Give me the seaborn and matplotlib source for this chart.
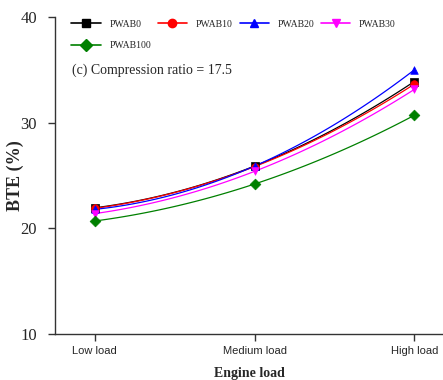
import numpy as np
import pandas as pd
import matplotlib
matplotlib.use("Agg")
import matplotlib.pyplot as plt
import seaborn as sns

categories = ["Low load", "Medium load", "High load"]
series = ["PWAB0", "PWAB10", "PWAB20", "PWAB30", "PWAB100"]
pwab0 = [21.95, 25.9, 33.9]
pwab10 = [21.9, 25.85, 33.65]
pwab20 = [21.8, 25.9, 35.0]
pwab30 = [21.4, 25.4, 33.15]
pwab100 = [20.7, 24.2, 30.7]
yticks = [10, 20, 30, 40]

values = [pwab0, pwab10, pwab20, pwab30, pwab100]
colors = ["#000000", "#ff0000", "#0000ff", "#ff00ff", "#008000"]
markers = ["s", "o", "^", "v", "D"]

sns.set_style("ticks")
plt.rcParams["font.family"] = ["Liberation Serif", "DejaVu Serif"]

fig = plt.figure(figsize=(4.43, 3.80), dpi=100)
ax = fig.add_axes([0.124, 0.121, 0.876, 0.834])

x = np.arange(len(categories))
xs = np.linspace(0, 2, 100)
rows = []
for name, vals in zip(series, values):
    for xi, v in zip(x, vals):
        rows.append({"x": xi, "y": v, "series": name})
df = pd.DataFrame(rows)

handles = {}
for name, vals, c, m in zip(series, values, colors, markers):
    coef = np.polyfit(x, vals, 2)
    ax.plot(xs, np.polyval(coef, xs), color=c, lw=0.9, zorder=2)
    sub = df[df.series == name]
    sns.scatterplot(data=sub, x="x", y="y", ax=ax, color=c, marker=m, s=30,
                    edgecolor=c, linewidth=0.5, zorder=3, legend=False)
    h, = ax.plot([], [], color=c, marker=m, ms=6, lw=1.2, label=name)
    handles[name] = h

ax.set_xlim(-0.25, 2.18)
ax.set_ylim(10, 40)
ax.set_yticks(yticks)
ax.set_yticklabels([str(t) for t in yticks], fontsize=12)
ax.set_xticks(x)
ax.set_xticklabels(categories, fontsize=8, family="Liberation Sans")
ax.tick_params(axis="both", direction="out", length=5, width=1, color="#333333")
ax.tick_params(axis="y", pad=8)
ax.set_xlabel("Engine load", fontsize=10, fontweight="bold", labelpad=8)
ax.set_ylabel("BTE (%)", fontsize=13, fontweight="bold")
ax.yaxis.set_label_coords(-0.08, 0.5)
for s in ["top", "right"]:
    ax.spines[s].set_visible(False)
for s in ["left", "bottom"]:
    ax.spines[s].set_color("#333333")
    ax.spines[s].set_linewidth(1)

ax.text(0.045, 0.833, "(c) Compression ratio = 17.5", transform=ax.transAxes,
        fontsize=10, va="center", ha="left")

order = ["PWAB0", "PWAB100", "PWAB10", "PWAB20", "PWAB30"]
ax.legend(handles=[handles[n] for n in order], ncol=4, loc="upper left",
          bbox_to_anchor=(0.02, 1.02), frameon=False, fontsize=7,
          handlelength=3.0, columnspacing=0.7, handletextpad=0.9,
          labelspacing=1.3)

fig.savefig("out.png", dpi=100)
